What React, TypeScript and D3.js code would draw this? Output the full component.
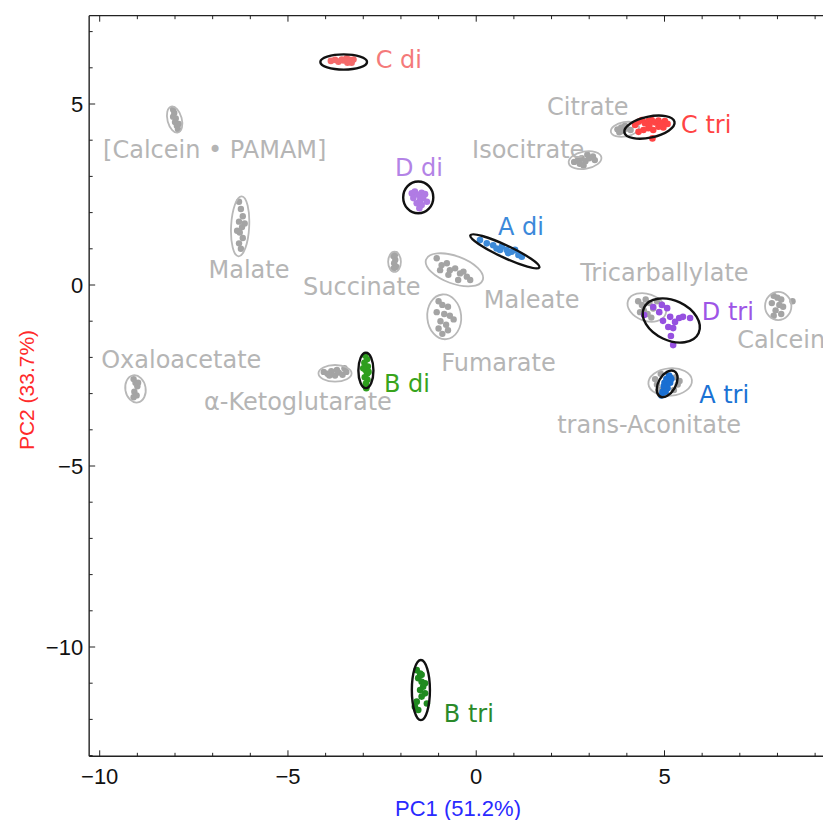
import React from 'react';
import * as d3 from 'd3';

type Pt = [number, number];

// ---------- data (PC1, PC2) ----------
const cDiPts: Pt[] = [[-3.86, 6.19], [-3.75, 6.22], [-3.66, 6.17], [-3.53, 6.2], [-3.44, 6.26], [-3.37, 6.22], [-3.31, 6.14], [-3.26, 6.23], [-3.42, 6.14], [-3.57, 6.23], [-3.3, 6.2], [-3.4, 6.19]];
const cTriPts: Pt[] = [[4.22, 4.42], [4.31, 4.51], [4.4, 4.56], [4.48, 4.47], [4.57, 4.53], [4.66, 4.56], [4.75, 4.49], [4.84, 4.54], [4.93, 4.47], [5.01, 4.53], [5.08, 4.45], [4.57, 4.33], [4.7, 4.28], [4.44, 4.28], [4.31, 4.23], [4.84, 4.37], [4.97, 4.35], [4.68, 4.05], [4.6, 4.42], [4.9, 4.44]];
const dDiPts: Pt[] = [[-1.71, 2.53], [-1.63, 2.58], [-1.54, 2.49], [-1.45, 2.55], [-1.36, 2.51], [-1.49, 2.35], [-1.41, 2.4], [-1.58, 2.26], [-1.45, 2.21], [-1.31, 2.3], [-1.67, 2.4], [-1.51, 2.12]];
const aDiPts: Pt[] = [[0.1, 1.24], [0.28, 1.15], [0.45, 1.1], [0.54, 1.01], [0.68, 1.06], [0.81, 0.97], [0.94, 0.92], [1.03, 0.97], [1.12, 0.83], [1.21, 0.78], [0.85, 0.88], [0.63, 0.97]];
const dTriPts: Pt[] = [[4.46, -0.83], [4.7, -0.61], [4.86, -0.75], [5.07, -0.64], [5.15, -0.88], [5.28, -1.02], [5.39, -0.91], [5.49, -0.88], [5.68, -0.91], [5.23, -1.19], [5.17, -1.41], [5.23, -1.66], [4.96, -0.99], [4.93, -0.55], [5.1, -1.16]];
const aTriPts: Pt[] = [[4.95, -2.95], [5.0, -2.85], [5.05, -2.75], [5.1, -2.65], [5.15, -2.55], [5.0, -2.7], [5.08, -2.85], [5.12, -2.5], [4.98, -2.8], [5.05, -2.6], [5.15, -2.7], [4.92, -3.05], [5.03, -2.95], [5.18, -2.6]];
const bDiPts: Pt[] = [[-2.95, -1.95], [-2.9, -2.05], [-2.97, -2.15], [-2.88, -2.25], [-2.94, -2.35], [-2.9, -2.45], [-2.96, -2.55], [-2.89, -2.62], [-2.93, -2.72], [-2.92, -2.85], [-3.0, -2.3], [-2.86, -2.4]];
const bTriPts: Pt[] = [[-1.58, -10.64], [-1.49, -10.73], [-1.54, -10.86], [-1.45, -10.96], [-1.41, -11.1], [-1.49, -11.19], [-1.36, -11.28], [-1.45, -11.37], [-1.58, -11.51], [-1.31, -11.56], [-1.54, -11.74], [-1.63, -11.65], [-1.45, -10.77], [-1.36, -11.0]];

const calceinPamamPts: Pt[] = [[-8.05, 4.85], [-8.02, 4.75], [-7.98, 4.6], [-8.0, 4.5], [-7.95, 4.4], [-7.92, 4.3], [-8.05, 4.65], [-7.9, 4.45]];
const citratePts: Pt[] = [[3.75, 4.3], [3.85, 4.35], [3.9, 4.25], [4.0, 4.32], [4.1, 4.28], [3.8, 4.22], [3.95, 4.4]];
const isocitratePts: Pt[] = [[2.6, 3.4], [2.7, 3.45], [2.8, 3.5], [2.9, 3.42], [3.0, 3.5], [3.1, 3.55], [2.75, 3.35], [2.95, 3.6], [3.15, 3.45], [2.85, 3.3]];
const malatePts: Pt[] = [[-6.3, 2.3], [-6.25, 2.1], [-6.2, 1.9], [-6.3, 1.75], [-6.22, 1.6], [-6.28, 1.45], [-6.2, 1.3], [-6.3, 1.15], [-6.25, 1.0], [-6.15, 1.7], [-6.35, 1.5]];
const succinatePts: Pt[] = [[-2.2, 0.8], [-2.15, 0.7], [-2.18, 0.6], [-2.12, 0.5], [-2.2, 0.45], [-2.15, 0.85]];
const maleatePts: Pt[] = [[-1.05, 0.74], [-0.92, 0.55], [-0.78, 0.6], [-0.7, 0.41], [-0.56, 0.46], [-0.43, 0.32], [-0.34, 0.37], [-0.25, 0.23], [-0.48, 0.14], [-0.74, 0.28], [-0.96, 0.41], [-0.16, 0.14]];
const fumaratePts: Pt[] = [[-1.0, -0.45], [-0.9, -0.55], [-0.75, -0.6], [-1.05, -0.75], [-0.85, -0.8], [-0.7, -0.85], [-0.95, -1.0], [-0.8, -1.1], [-1.0, -1.2], [-0.75, -1.25], [-0.6, -0.95], [-0.9, -1.35]];
const tricarballylatePts: Pt[] = [[4.3, -0.45], [4.4, -0.55], [4.5, -0.4], [4.6, -0.5], [4.45, -0.7], [4.55, -0.8], [4.7, -0.65], [4.35, -0.75], [4.65, -0.9], [4.8, -0.45]];
const calceinPts: Pt[] = [[7.9, -0.3], [8.0, -0.35], [8.1, -0.4], [7.85, -0.5], [8.05, -0.55], [8.15, -0.6], [7.95, -0.7], [8.1, -0.8], [7.9, -0.85], [8.4, -0.45]];
const transAconitatePts: Pt[] = [[4.75, -2.6], [4.8, -2.75], [4.85, -2.9], [5.3, -2.55], [5.35, -2.75], [5.4, -2.65], [4.9, -2.45], [5.25, -2.9]];
const oxaloacetatePts: Pt[] = [[-9.1, -2.6], [-9.05, -2.7], [-9.0, -2.8], [-9.08, -2.95], [-9.02, -3.05], [-9.1, -3.1], [-8.98, -2.7]];
const ketoglutaratePts: Pt[] = [[-4.05, -2.4], [-3.95, -2.45], [-3.85, -2.38], [-3.75, -2.5], [-3.65, -2.42], [-3.55, -2.48], [-3.45, -2.4], [-3.7, -2.35], [-3.9, -2.5], [-3.5, -2.3]];

// ellipses: centre, semi-axes, rotation (deg)
type Ell = { cx: number; cy: number; rx: number; ry: number; a: number };
const grayGroups: { pts: Pt[]; e: Ell }[] = [
  { pts: calceinPamamPts, e: { cx: -8.01, cy: 4.57, rx: 0.19, ry: 0.37, a: -15 } },
  { pts: citratePts, e: { cx: 3.95, cy: 4.3, rx: 0.38, ry: 0.2, a: -10 } },
  { pts: isocitratePts, e: { cx: 2.89, cy: 3.45, rx: 0.44, ry: 0.24, a: -10 } },
  { pts: malatePts, e: { cx: -6.27, cy: 1.62, rx: 0.24, ry: 0.83, a: 3 } },
  { pts: succinatePts, e: { cx: -2.17, cy: 0.64, rx: 0.17, ry: 0.28, a: 0 } },
  { pts: maleatePts, e: { cx: -0.58, cy: 0.42, rx: 0.8, ry: 0.38, a: 20 } },
  { pts: fumaratePts, e: { cx: -0.85, cy: -0.88, rx: 0.45, ry: 0.62, a: -5 } },
  { pts: tricarballylatePts, e: { cx: 4.53, cy: -0.62, rx: 0.53, ry: 0.37, a: 20 } },
  { pts: calceinPts, e: { cx: 8.02, cy: -0.58, rx: 0.35, ry: 0.39, a: 0 } },
  { pts: transAconitatePts, e: { cx: 5.15, cy: -2.68, rx: 0.58, ry: 0.38, a: -5 } },
  { pts: oxaloacetatePts, e: { cx: -9.05, cy: -2.87, rx: 0.27, ry: 0.38, a: -10 } },
  { pts: ketoglutaratePts, e: { cx: -3.75, cy: -2.44, rx: 0.44, ry: 0.23, a: 0 } },
];

const colorGroups: { pts: Pt[]; e: Ell; color: string }[] = [
  { pts: cDiPts, e: { cx: -3.52, cy: 6.16, rx: 0.62, ry: 0.21, a: 0 }, color: '#f46a6a' },
  { pts: cTriPts, e: { cx: 4.6, cy: 4.36, rx: 0.68, ry: 0.29, a: -12 }, color: '#ff4545' },
  { pts: dDiPts, e: { cx: -1.54, cy: 2.42, rx: 0.4, ry: 0.44, a: 0 }, color: '#b07be4' },
  { pts: aDiPts, e: { cx: 0.76, cy: 0.93, rx: 1.01, ry: 0.17, a: 25 }, color: '#3d8ad8' },
  { pts: dTriPts, e: { cx: 5.18, cy: -0.98, rx: 0.8, ry: 0.55, a: 25 }, color: '#9650e0' },
  { pts: aTriPts, e: { cx: 5.07, cy: -2.73, rx: 0.23, ry: 0.4, a: 30 }, color: '#1a6fd2' },
  { pts: bDiPts, e: { cx: -2.93, cy: -2.36, rx: 0.2, ry: 0.49, a: 0 }, color: '#2e9e1e' },
  { pts: bTriPts, e: { cx: -1.47, cy: -11.19, rx: 0.24, ry: 0.83, a: 0 }, color: '#1f8a1f' },
];

const labelTexts = ['C di', '[Calcein \u2022 PAMAM]', 'Citrate', 'C tri', 'Isocitrate', 'D di', 'A di', 'Malate', 'Succinate', 'Maleate', 'Tricarballylate', 'D tri', 'Calcein', 'Oxaloacetate', 'Fumarate', '\u03b1-Ketoglutarate', 'B di', 'A tri', 'trans-Aconitate', 'B tri'];
const labelPos: Pt[] = [[-2.67, 5.99], [-9.91, 3.51], [1.88, 4.7], [5.44, 4.2], [-0.11, 3.52], [-2.16, 3.01], [0.58, 1.38], [-7.11, 0.19], [-4.6, -0.28], [0.2, -0.64], [2.76, 0.11], [5.99, -0.97], [6.93, -1.74], [-9.96, -2.29], [-0.93, -2.38], [-7.23, -3.45], [-2.45, -2.96], [5.92, -3.26], [2.15, -4.08], [-0.86, -12.07]];
const labelColors = ['#f47a7a', '#b5b5b5', '#b5b5b5', '#ff4444', '#b5b5b5', '#b383e6', '#3b89da', '#b5b5b5', '#b5b5b5', '#b5b5b5', '#b5b5b5', '#9d55e6', '#b5b5b5', '#b5b5b5', '#b5b5b5', '#b5b5b5', '#38a41c', '#1a72d4', '#b5b5b5', '#2a8a2a'];

const xTicks = d3.range(-10, 11);
const yTicks = d3.range(-13, 8);
const xLim: [number, number] = [-10.28, 10.5];
const yLim: [number, number] = [-13.02, 7.44];

export default function App() {
  const W = 823, H = 820;
  const x = d3.scaleLinear().domain([-10, 5]).range([99.7, 664.5]);
  const y = d3.scaleLinear().domain([-10, 5]).range([647, 104]);
  const fmt = d3.format('d');
  const L = x(xLim[0]), R = x(xLim[1]), T = y(yLim[1]), B = y(yLim[0]);

  const ell = (e: Ell, stroke: string, sw: number, key: string) => {
    const cx = x(e.cx), cy = y(e.cy);
    const rx = Math.abs(x(e.cx + e.rx) - cx), ry = Math.abs(y(e.cy + e.ry) - cy);
    return <ellipse key={key} cx={cx} cy={cy} rx={rx} ry={ry} transform={`rotate(${e.a} ${cx} ${cy})`} fill="none" stroke={stroke} strokeWidth={sw} />;
  };

  return (
    <svg width={W} height={H} style={{ position: 'absolute', left: 0, top: 0, background: '#fff' }}>
      <rect width={W} height={H} fill="#fff" />
      {grayGroups.map((g, i) => (
        <g key={'g' + i}>
          {g.pts.map((p, j) => <circle key={j} cx={x(p[0])} cy={y(p[1])} r={3.2} fill="#a4a4a4" />)}
          {ell(g.e, '#b8b8b8', 1.8, 'e' + i)}
        </g>
      ))}
      {colorGroups.map((g, i) => (
        <g key={'c' + i}>
          {g.pts.map((p, j) => <circle key={j} cx={x(p[0])} cy={y(p[1])} r={3.3} fill={g.color} />)}
          {ell(g.e, '#111', 2.4, 'ce' + i)}
        </g>
      ))}
      {labelTexts.map((t, i) => (
        <text key={'l' + i} x={x(labelPos[i][0])} y={y(labelPos[i][1])} fill={labelColors[i]} fontFamily="DejaVu Sans, Verdana, sans-serif" fontSize={24}>{t}</text>
      ))}
      <g stroke="#222" strokeWidth={1.4} fill="none">
        <line x1={L} x2={R} y1={B} y2={B} />
        <line x1={L} x2={R} y1={T} y2={T} />
        <line x1={L} x2={L} y1={T} y2={B} />
        <line x1={R} x2={R} y1={T} y2={B} />
      </g>
      {xTicks.map((v) => {
        const len = v % 5 === 0 ? 6 : 3.5;
        return (
          <g key={'xt' + v} stroke="#222" strokeWidth={1}>
            <line x1={x(v)} x2={x(v)} y1={B} y2={B - len} />
            <line x1={x(v)} x2={x(v)} y1={T} y2={T + len} />
          </g>
        );
      })}
      {yTicks.map((v) => {
        const len = v % 5 === 0 ? 6 : 3.5;
        return <line key={'yt' + v} x1={L} x2={L + len} y1={y(v)} y2={y(v)} stroke="#222" strokeWidth={1} />;
      })}
      {xTicks.filter((v) => v % 5 === 0 && x(v) < W - 15).map((v) => (
        <text key={'xl' + v} x={x(v)} y={B + 28} textAnchor="middle" fontFamily="Liberation Sans, Arial, sans-serif" fontSize={22} fill="#111">{fmt(v)}</text>
      ))}
      {yTicks.filter((v) => v % 5 === 0).map((v) => (
        <text key={'yl' + v} x={L - 6} y={y(v)} dy="0.36em" textAnchor="end" fontFamily="Liberation Sans, Arial, sans-serif" fontSize={22} fill="#111">{fmt(v)}</text>
      ))}
      <text x={458} y={816} textAnchor="middle" fontFamily="Liberation Sans, Arial, sans-serif" fontSize={22} fill="#2a2aff">PC1 (51.2%)</text>
      <text transform={`translate(34, ${390}) rotate(-90)`} textAnchor="middle" fontFamily="Liberation Sans, Arial, sans-serif" fontSize={21} fill="#ff2a2a">PC2 (33.7%)</text>
    </svg>
  );
}
